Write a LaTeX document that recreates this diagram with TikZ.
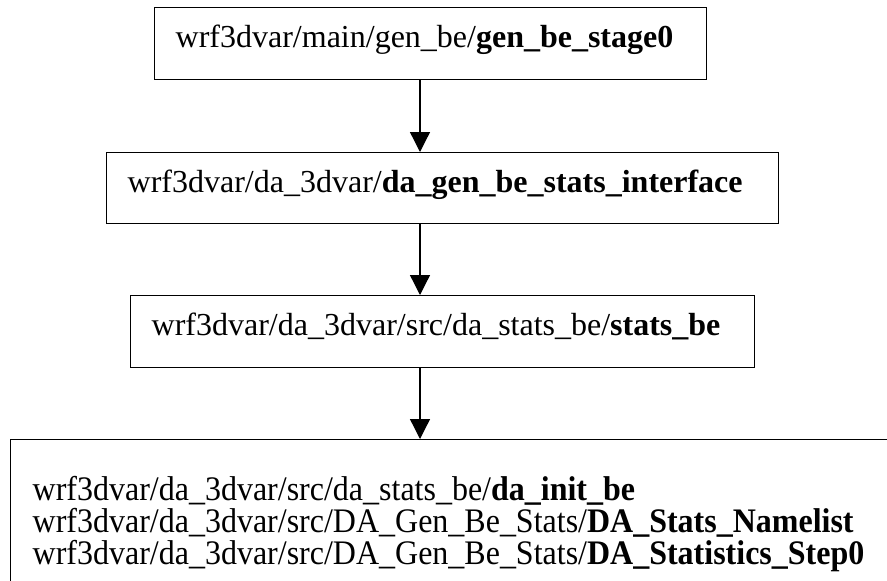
\documentclass[tikz,border=0pt]{standalone}
\usepackage{fontspec}
\setmainfont{Liberation Serif}
% slightly narrow, tall face for the routine list
\newfontfamily\narrowserif[FakeStretch=0.93]{Liberation Serif}
\usetikzlibrary{arrows.meta}
\tikzset{
  pathbox/.style={draw, line width=1.4pt, anchor=north west, align=left,
    inner ysep=0pt},
  callbox/.style={pathbox, font=\fontsize{32}{33}\selectfont, inner xsep=21pt,
    text height=22pt, text depth=14pt, minimum height=72pt},
  listbox/.style={pathbox, font=\narrowserif\fontsize{34.4}{32}\selectfont,
    inner xsep=22pt, inner ysep=37pt, text width=900pt},
  flow/.style={line width=1.3pt, -{Triangle[length=20pt,width=20pt]}},
}
\begin{document}
\begin{tikzpicture}[x=1pt,y=-1pt]
\useasboundingbox (0,0) rectangle (887,581);
\clip (0,0) rectangle (887,581);
% vertical line on which all call arrows run
\coordinate (ax) at (420,0);

\node[callbox, text width=510pt] (stage0) at (154,7)
  {wrf3dvar/main/gen\_be/\textbf{gen\_be\_stage0}};
\node[callbox, text width=630pt, minimum height=71pt] (iface) at (106,152)
  {wrf3dvar/da\_3dvar/\textbf{da\_gen\_be\_stats\_interface}};
\node[callbox, text width=582pt] (stats) at (130,295)
  {wrf3dvar/da\_3dvar/src/da\_stats\_be/\textbf{stats\_be}};
\node[listbox] (routines) at (10,439)
  {wrf3dvar/da\_3dvar/src/da\_stats\_be/\textbf{da\_init\_be}\\
   wrf3dvar/da\_3dvar/src/DA\_Gen\_Be\_Stats/\textbf{DA\_Stats\_Namelist}\\
   wrf3dvar/da\_3dvar/src/DA\_Gen\_Be\_Stats/\textbf{DA\_Statistics\_Step0}};

\draw[flow] (stage0.south -| ax) -- (iface.north -| ax);
\draw[flow] (iface.south -| ax) -- (stats.north -| ax);
\draw[flow] (stats.south -| ax) -- (routines.north -| ax);
\end{tikzpicture}
\end{document}
